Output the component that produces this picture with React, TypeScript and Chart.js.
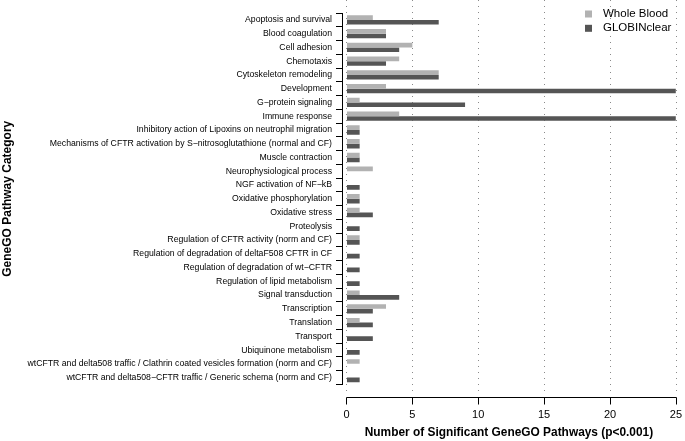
import React, { useEffect, useRef } from "react";
import { Chart, registerables } from "chart.js";

Chart.register(...registerables);

const categories: string[] = [
  "Apoptosis and survival",
  "Blood coagulation",
  "Cell adhesion",
  "Chemotaxis",
  "Cytoskeleton remodeling",
  "Development",
  "G\u2212protein signaling",
  "Immune response",
  "Inhibitory action of Lipoxins on neutrophil migration",
  "Mechanisms of CFTR activation by S\u2212nitrosoglutathione (normal and CF)",
  "Muscle contraction",
  "Neurophysiological process",
  "NGF activation of NF\u2212kB",
  "Oxidative phosphorylation",
  "Oxidative stress",
  "Proteolysis",
  "Regulation of CFTR activity (norm and CF)",
  "Regulation of degradation of deltaF508 CFTR in CF",
  "Regulation of degradation of wt\u2212CFTR",
  "Regulation of lipid metabolism",
  "Signal transduction",
  "Transcription",
  "Translation",
  "Transport",
  "Ubiquinone metabolism",
  "wtCFTR and delta508 traffic / Clathrin coated vesicles formation (norm and CF)",
  "wtCFTR and delta508\u2212CFTR traffic / Generic schema (norm and CF)",
];

const wholeBlood: number[] = [2, 3, 5, 4, 7, 3, 1, 4, 1, 1, 1, 2, 0, 1, 1, 0, 1, 0, 0, 0, 1, 3, 1, 0, 0, 1, 0];
const globinClear: number[] = [7, 3, 4, 3, 7, 25, 9, 25, 1, 1, 1, 0, 1, 1, 2, 1, 1, 1, 1, 1, 4, 2, 2, 2, 1, 0, 1];

const xTicks: number[] = [0, 5, 10, 15, 20, 25];

const seriesNames: string[] = ["Whole Blood", "GLOBINclear"];
const seriesColors: string[] = ["#b2b2b2", "#555555"];

const FONT = "'Liberation Sans', Arial, Helvetica, sans-serif";

export default function App() {
  const ref = useRef<HTMLCanvasElement | null>(null);

  useEffect(() => {
    if (!ref.current) return;

    const gridPlugin = {
      id: "rGrid",
      beforeDatasetsDraw(chart: any) {
        const ctx = chart.ctx;
        const xs = chart.scales.x;
        ctx.save();
        ctx.strokeStyle = "#8a8a8a";
        ctx.lineWidth = 1;
        ctx.setLineDash([1, 5]);
        xTicks.forEach((t) => {
          const px = Math.round(xs.getPixelForValue(t)) + 0.5;
          ctx.beginPath();
          ctx.moveTo(px, 0);
          ctx.lineTo(px, 391);
          ctx.stroke();
        });
        ctx.restore();
      },
      afterDraw(chart: any) {
        const ctx = chart.ctx;
        const xs = chart.scales.x;
        ctx.save();
        // R-style detached x axis
        const y = 397.5;
        ctx.strokeStyle = "#000";
        ctx.lineWidth = 1;
        ctx.beginPath();
        ctx.moveTo(Math.round(xs.getPixelForValue(xTicks[0])) + 0.5, y);
        ctx.lineTo(Math.round(xs.getPixelForValue(xTicks[xTicks.length - 1])) + 0.5, y);
        ctx.stroke();
        xTicks.forEach((t) => {
          const px = Math.round(xs.getPixelForValue(t)) + 0.5;
          ctx.beginPath();
          ctx.moveTo(px, y);
          ctx.lineTo(px, y + 7);
          ctx.stroke();
        });
        // legend
        ctx.font = "11.5px " + FONT;
        ctx.textBaseline = "middle";
        ctx.textAlign = "left";
        seriesNames.forEach((name, i) => {
          const ly = 14 + i * 14.3;
          ctx.fillStyle = seriesColors[i];
          ctx.fillRect(585, ly - 3.5, 7, 7);
          ctx.fillStyle = "#000";
          ctx.fillText(name, 603, ly);
        });
        ctx.restore();
      },
    };

    const chart = new Chart(ref.current, {
      type: "bar",
      data: {
        labels: categories,
        datasets: [
          {
            label: seriesNames[0],
            data: wholeBlood,
            backgroundColor: seriesColors[0],
            borderWidth: 0,
            categoryPercentage: 0.68,
            barPercentage: 1,
          },
          {
            label: seriesNames[1],
            data: globinClear,
            backgroundColor: seriesColors[1],
            borderWidth: 0,
            categoryPercentage: 0.68,
            barPercentage: 1,
          },
        ],
      },
      options: {
        indexAxis: "y",
        animation: false,
        responsive: false,
        maintainAspectRatio: false,
        layout: { padding: { top: 13, right: 8.3, bottom: 0, left: 0 } },
        plugins: {
          legend: { display: false },
          tooltip: { enabled: false },
        },
        scales: {
          x: {
            type: "linear",
            min: -0.34,
            max: 25,
            afterBuildTicks: (scale: any) => {
              scale.ticks = xTicks.map((v) => ({ value: v }));
            },
            afterFit: (scale: any) => {
              scale.height = 56.5;
            },
            border: { display: false },
            grid: {
              display: true,
              drawOnChartArea: false,
              drawTicks: true,
              tickLength: 21,
              color: "rgba(0,0,0,0)",
            },
            ticks: {
              padding: 3,
              color: "#000",
              font: { family: FONT, size: 11 },
              maxRotation: 0,
              autoSkip: false,
            },
            title: {
              display: true,
              text: "Number of Significant GeneGO Pathways (p<0.001)",
              color: "#000",
              font: { family: FONT, size: 11.9, weight: "bold" },
              padding: { top: 0, bottom: 1 },
            },
          },
          y: {
            type: "category",
            offset: true,
            afterFit: (scale: any) => {
              scale.width = 342;
            },
            border: { display: true, color: "#000", width: 1 },
            grid: {
              display: true,
              offset: true,
              drawOnChartArea: false,
              drawTicks: true,
              tickLength: 6,
              color: "#000",
            },
            ticks: {
              padding: 4,
              color: "#000",
              autoSkip: false,
              font: { family: FONT, size: 8.7 },
            },
            title: {
              display: true,
              text: "GeneGO Pathway Category",
              color: "#000",
              font: { family: FONT, size: 12, weight: "bold" },
              padding: { top: 0.5, bottom: 0 },
            },
          },
        },
      },
      plugins: [gridPlugin],
    } as any);

    return () => {
      chart.destroy();
    };
  }, []);

  return (
    <div
      style={{
        position: "fixed",
        left: 0,
        top: 0,
        width: 685,
        height: 441,
        background: "#fff",
      }}
    >
      <canvas ref={ref} width={685} height={441} style={{ width: 685, height: 441, display: "block" }} />
    </div>
  );
}
